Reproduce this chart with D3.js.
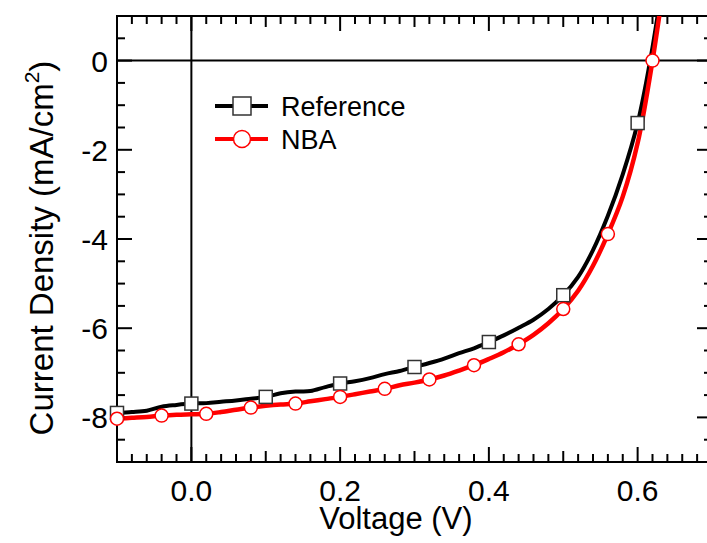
<!DOCTYPE html>
<html>
<head>
<meta charset="utf-8">
<script src="https://cdn.jsdelivr.net/npm/d3@7"></script>
<style>
  body { margin: 0; background: #fff; }
  svg text { font-family: "Liberation Sans", Arial, Helvetica, sans-serif; fill: #000; }
</style>
</head>
<body>
<div id="chart"></div>
<script>
// J-V curves, one sample every 0.02 V
var voltages = [-0.10, -0.08, -0.06, -0.04, -0.02, 0.00, 0.02, 0.04, 0.06, 0.08,
                0.10, 0.12, 0.14, 0.16, 0.18, 0.20, 0.22, 0.24, 0.26, 0.28,
                0.30, 0.32, 0.34, 0.36, 0.38, 0.40, 0.42, 0.44, 0.46, 0.48,
                0.50, 0.52, 0.54, 0.56, 0.58, 0.60, 0.62, 0.64];

var refDensity = [-7.90, -7.88, -7.85, -7.76, -7.72, -7.69, -7.68, -7.65, -7.62, -7.58,
                  -7.54, -7.46, -7.42, -7.41, -7.32, -7.24, -7.19, -7.12, -7.03, -6.96,
                  -6.87, -6.78, -6.68, -6.56, -6.45, -6.31, -6.16, -5.99, -5.81, -5.57,
                  -5.26, -4.85, -4.25, -3.48, -2.55, -1.40, 0.30, 2.50];

var nbaDensity = [-8.03, -8.01, -7.99, -7.96, -7.94, -7.93, -7.92, -7.88, -7.83, -7.78,
                  -7.74, -7.71, -7.69, -7.64, -7.59, -7.54, -7.48, -7.42, -7.36, -7.28,
                  -7.22, -7.15, -7.06, -6.95, -6.83, -6.69, -6.54, -6.36, -6.15, -5.89,
                  -5.57, -5.16, -4.60, -3.89, -3.05, -1.85, 0.00, 2.30];

var seriesNames = ["Reference", "NBA"];
var xTickLabels = [0.0, 0.2, 0.4, 0.6];
var yTickLabels = [0, -2, -4, -6, -8];
var refMarkerStep = 5;   // a square every 0.1 V
var nbaMarkerStep = 3;   // a circle every 0.06 V

var width = 707, height = 543;
var plotLeft = 117, plotRight = 712, plotTop = 16, plotBottom = 462;

var svg = d3.select("#chart").append("svg")
    .attr("width", width)
    .attr("height", height);

var x = d3.scaleLinear().domain([-0.1, 0.7]).range([plotLeft, plotRight]);
var y = d3.scaleLinear().domain([-9, 1]).range([plotBottom, plotTop]);

svg.append("clipPath").attr("id", "plotClip")
  .append("rect")
    .attr("x", plotLeft).attr("y", plotTop)
    .attr("width", plotRight - plotLeft).attr("height", plotBottom - plotTop);

// zero lines
svg.append("line")
    .attr("x1", x(0)).attr("x2", x(0))
    .attr("y1", plotTop).attr("y2", plotBottom)
    .attr("stroke", "#000").attr("stroke-width", 2);
svg.append("line")
    .attr("x1", plotLeft).attr("x2", plotRight)
    .attr("y1", y(0)).attr("y2", y(0))
    .attr("stroke", "#000").attr("stroke-width", 2);

// ticks on all four sides, pointing inward
function tickLen(v, major, medium) {
    var r = Math.round(v * 1000);
    if (r % major == 0) return 15;
    if (medium && r % medium == 0) return 11;
    return 8;
}

var xMinor = d3.range(-5, 36).map(function(i){ return i / 50; });
var yMinor = d3.range(-18, 3).map(function(i){ return i / 2; });

var ticks = svg.append("g").attr("stroke", "#000").attr("stroke-width", 2);
xMinor.forEach(function(v) {
    var len = tickLen(v, 200, 100);
    ticks.append("line").attr("x1", x(v)).attr("x2", x(v))
        .attr("y1", plotBottom).attr("y2", plotBottom - len);
    ticks.append("line").attr("x1", x(v)).attr("x2", x(v))
        .attr("y1", plotTop).attr("y2", plotTop + len);
});
yMinor.forEach(function(v) {
    var len = tickLen(v, 2000, 0);
    ticks.append("line").attr("y1", y(v)).attr("y2", y(v))
        .attr("x1", plotLeft).attr("x2", plotLeft + len);
    ticks.append("line").attr("y1", y(v)).attr("y2", y(v))
        .attr("x1", plotRight).attr("x2", plotRight - len);
});

// frame
svg.append("rect")
    .attr("x", plotLeft).attr("y", plotTop)
    .attr("width", plotRight - plotLeft).attr("height", plotBottom - plotTop)
    .attr("fill", "none").attr("stroke", "#000").attr("stroke-width", 2);

// tick labels
svg.selectAll(".xlab").data(xTickLabels).enter().append("text")
    .attr("class", "xlab")
    .attr("x", function(d){ return x(d); })
    .attr("y", 501)
    .attr("text-anchor", "middle")
    .style("font-size", "30px")
    .text(function(d){ return d3.format(".1f")(d); });

svg.selectAll(".ylab").data(yTickLabels).enter().append("text")
    .attr("class", "ylab")
    .attr("x", 108)
    .attr("y", function(d){ return y(d) + 11; })
    .attr("text-anchor", "end")
    .style("font-size", "30px")
    .text(function(d){ return d; });

// axis titles
svg.append("text")
    .attr("x", x(0.275)).attr("y", 529)
    .attr("text-anchor", "middle")
    .style("font-size", "31px")
    .text("Voltage (V)");

var yTitle = svg.append("text")
    .attr("transform", "translate(53,248) rotate(-90)")
    .attr("text-anchor", "middle")
    .style("font-size", "33px");
yTitle.append("tspan").text("Current Density (mA/cm");
yTitle.append("tspan").attr("dy", -14).style("font-size", "21px").text("2");
yTitle.append("tspan").attr("dy", 14).text(")");

// curves
var refPts = voltages.map(function(v, i){ return [v, refDensity[i]]; });
var nbaPts = voltages.map(function(v, i){ return [v, nbaDensity[i]]; });

var line = d3.line()
    .x(function(d){ return x(d[0]); })
    .y(function(d){ return y(d[1]); })
    .curve(d3.curveCatmullRom);

var plot = svg.append("g").attr("clip-path", "url(#plotClip)");

plot.append("path").datum(refPts)
    .attr("d", line)
    .attr("fill", "none").attr("stroke", "#000").attr("stroke-width", 4);
plot.append("path").datum(nbaPts)
    .attr("d", line)
    .attr("fill", "none").attr("stroke", "#ff0000").attr("stroke-width", 4.5);

var refMarks = refPts.filter(function(d, i){ return i % refMarkerStep == 0 && d[1] <= 1; });
var nbaMarks = nbaPts.filter(function(d, i){ return i % nbaMarkerStep == 0 && d[1] <= 1; });

svg.selectAll(".sq").data(refMarks).enter().append("rect")
    .attr("class", "sq")
    .attr("x", function(d){ return x(d[0]) - 6.5; })
    .attr("y", function(d){ return y(d[1]) - 6.5; })
    .attr("width", 13).attr("height", 13)
    .attr("fill", "#fff").attr("stroke", "#333").attr("stroke-width", 1.5);

svg.selectAll(".ci").data(nbaMarks).enter().append("circle")
    .attr("class", "ci")
    .attr("cx", function(d){ return x(d[0]); })
    .attr("cy", function(d){ return y(d[1]); })
    .attr("r", 6.5)
    .attr("fill", "#fff").attr("stroke", "#ff0000").attr("stroke-width", 1.5);

// legend
var legend = svg.append("g");
var legendRows = [{ name: seriesNames[0], color: "#000", y: 106 },
                  { name: seriesNames[1], color: "#ff0000", y: 139 }];
legendRows.forEach(function(r, i) {
    legend.append("line")
        .attr("x1", 215).attr("x2", 268)
        .attr("y1", r.y).attr("y2", r.y)
        .attr("stroke", r.color).attr("stroke-width", 4);
    if (i == 0) {
        legend.append("rect")
            .attr("x", 233).attr("y", r.y - 9)
            .attr("width", 18).attr("height", 18)
            .attr("fill", "#fff").attr("stroke", "#333").attr("stroke-width", 1.5);
    } else {
        legend.append("circle")
            .attr("cx", 242).attr("cy", r.y).attr("r", 8.5)
            .attr("fill", "#fff").attr("stroke", "#ff0000").attr("stroke-width", 1.5);
    }
    legend.append("text")
        .attr("x", 281).attr("y", r.y + 10)
        .style("font-size", "27px")
        .text(r.name);
});
</script>
</body>
</html>
